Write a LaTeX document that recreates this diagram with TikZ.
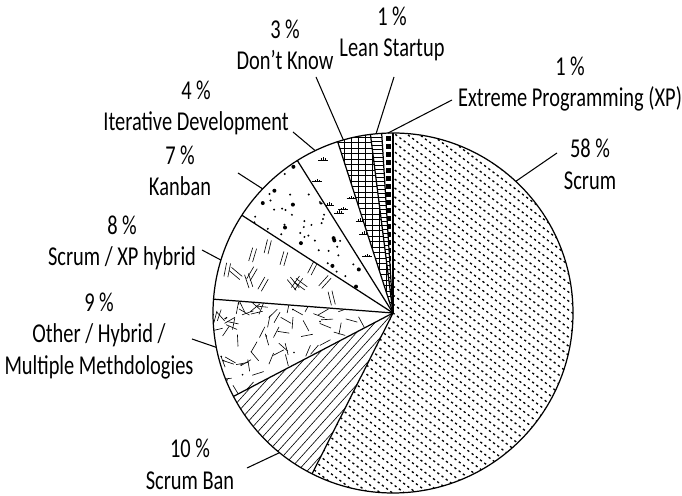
\documentclass[tikz,border=0pt]{standalone}
\usepackage{fontspec}
\setmainfont[FakeStretch=0.75]{Carlito}
\newcommand{\pieslice}[2]{(0,0) -- (#1:180) arc[start angle=#1, end angle=#2, radius=180] -- cycle}

\begin{document}
\begin{tikzpicture}[x=0.02cm, y=0.02cm,
    lbl/.style={align=center, font=\fontsize{15.5}{18}\selectfont, inner sep=0pt},
    leader/.style={line width=0.6pt},
    hatch/.style={line width=0.35pt},
    dotline/.style={line width=0.75pt, dash pattern=on 1.3pt off 1.7pt},
    rim/.style={line width=0.7pt}]
    \useasboundingbox (-393,-183) rectangle (289,313);

    % Scrum
    \begin{scope}
        \clip \pieslice{90}{-116.7};
        \begin{scope}[rotate=-37]
            \foreach \k in {-26,...,26}
                \draw[dotline] (-190,\k*7.2) -- (190,\k*7.2);
        \end{scope}
    \end{scope}

    % Scrum Ban
    \begin{scope}
        \clip \pieslice{-116.7}{-152.4};
        \begin{scope}[rotate=48]
            \foreach \k in {-27,...,27}
                \draw[hatch] (-190,\k*7) -- (190,\k*7);
        \end{scope}
    \end{scope}

    % Other
    \begin{scope}
        \clip \pieslice{-152.4}{-184.4};
        \pgfmathsetseed{7}
        \foreach \i in {1,...,62} {
            \pgfmathsetmacro{\a}{-184.4+32*rnd}
            \pgfmathsetmacro{\r}{12+168*sqrt(rnd)}
            \pgfmathsetmacro{\o}{180*rnd}
            \draw[hatch, shift={(\a:\r)}, rotate=\o] (-6,0) -- (6,0);
        }
        \foreach \i in {1,...,14} {
            \pgfmathsetmacro{\a}{-184.4+32*rnd}
            \pgfmathsetmacro{\r}{20+160*sqrt(rnd)}
            \fill (\a:\r) circle[radius=0.9];
        }
    \end{scope}

    % Scrum / XP hybrid
    \begin{scope}
        \clip \pieslice{175.6}{147.1};
        \pgfmathsetseed{11}
        \foreach \i in {1,...,14} {
            \pgfmathsetmacro{\a}{149+25*rnd}
            \pgfmathsetmacro{\r}{35+140*sqrt(rnd)}
            \pgfmathsetmacro{\o}{40+110*rnd}
            \draw[hatch, shift={(\a:\r)}, rotate=\o] (-7,-2) -- (7,-2) (-7,2) -- (7,2);
        }
    \end{scope}

    % Kanban
    \begin{scope}
        \clip \pieslice{147.1}{122.1};
        \pgfmathsetseed{5}
        \foreach \i in {1,...,48} {
            \pgfmathsetmacro{\a}{122.1+25*rnd}
            \pgfmathsetmacro{\r}{15+162*sqrt(rnd)}
            \pgfmathsetmacro{\d}{rnd < 0.3 ? 2.0 : 1.1}
            \fill (\a:\r) circle[radius=\d];
        }
    \end{scope}

    % Iterative Development
    \begin{scope}
        \clip \pieslice{122.1}{107.9};
        \pgfmathsetseed{3}
        \foreach \i in {1,...,9} {
            \pgfmathsetmacro{\a}{109+12*rnd}
            \pgfmathsetmacro{\r}{40+135*rnd}
            \draw[hatch, shift={(\a:\r)}] (-5,0) -- (5,0) (-2,0) -- (-2,2) (0,0) -- (0,2.8) (2,0) -- (2,2);
        }
    \end{scope}

    % Don't Know
    \begin{scope}
        \clip \pieslice{107.9}{97.2};
        \foreach \k in {0,...,34}
            \draw[line width=0.5pt] (-60,\k*5.5) -- (0,\k*5.5);
        \foreach \k in {0,...,9}
            \draw[line width=0.5pt] (-\k*7,0) -- (-\k*7,185);
    \end{scope}

    % Lean Startup
    \begin{scope}
        \clip \pieslice{97.2}{93.6};
        \foreach \k in {0,...,46}
            \draw[hatch] (-25,\k*4) -- (0,\k*4);
    \end{scope}

    % Extreme Programming
    \begin{scope}
        \clip \pieslice{93.6}{90};
        \foreach \k in {0,...,22}
            \fill (-7,\k*8+4) rectangle (-2.5,\k*8+8.5);
    \end{scope}

    % outline
    \draw[rim] (0,0) circle[radius=180];
    \foreach \b in {90,-116.7,-152.4,-184.4,147.1,122.1,107.9,97.2,93.6}
        \draw[rim] (0,0) -- (\b:180);

    % labels
    \node[lbl] (scrum) at (197,149) {58\,\%\\Scrum};
    \node[lbl] (xp) at (177,229) {1\,\%\\Extreme Programming (XP)};
    \node[lbl] (lean) at (-1,279) {1\,\%\\Lean Startup};
    \node[lbl] (dontknow) at (-108,268) {3\,\%\\Don’t Know};
    \node[lbl] (iterative) at (-197,205) {4\,\%\\Iterative Development};
    \node[lbl] (kanban) at (-213,142) {7\,\%\\Kanban};
    \node[lbl] (scrumxp) at (-271,70) {8\,\%\\Scrum / XP hybrid};
    \node[lbl] (other) at (-294,-23) {9\,\%\\Other / Hybrid /\\Multiple Methdologies};
    \node[lbl] (scrumban) at (-203,-151) {10\,\%\\Scrum Ban};

    % leaders
    \coordinate (scrum-in) at (47:180);
    \coordinate (scrum-out) at (164,160);
    \coordinate (xp-in) at (91.6:180);
    \coordinate (xp-out) at (59,213);
    \coordinate (lean-in) at (95.4:180);
    \coordinate (lean-out) at (1,236);
    \coordinate (dontknow-in) at (106:180);
    \coordinate (dontknow-out) at (-77,236);
    \coordinate (iterative-in) at (115.6:180);
    \coordinate (iterative-out) at (-100,181);
    \coordinate (kanban-in) at (136.4:180);
    \coordinate (kanban-out) at (-155,140);
    \coordinate (scrumxp-in) at (162.9:180);
    \coordinate (scrumxp-out) at (-191,63);
    \coordinate (other-in) at (191:180);
    \coordinate (other-out) at (-201,-26);
    \coordinate (scrumban-in) at (230.9:180);
    \coordinate (scrumban-out) at (-146,-155);

    \draw[leader] (scrum-out) -- (scrum-in);
    \draw[leader] (xp-out) -- (xp-in);
    \draw[leader] (lean-out) -- (lean-in);
    \draw[leader] (dontknow-out) -- (dontknow-in);
    \draw[leader] (iterative-out) -- (iterative-in);
    \draw[leader] (kanban-out) -- (kanban-in);
    \draw[leader] (scrumxp-out) -- (scrumxp-in);
    \draw[leader] (other-out) -- (other-in);
    \draw[leader] (scrumban-out) -- (scrumban-in);
\end{tikzpicture}
\end{document}
